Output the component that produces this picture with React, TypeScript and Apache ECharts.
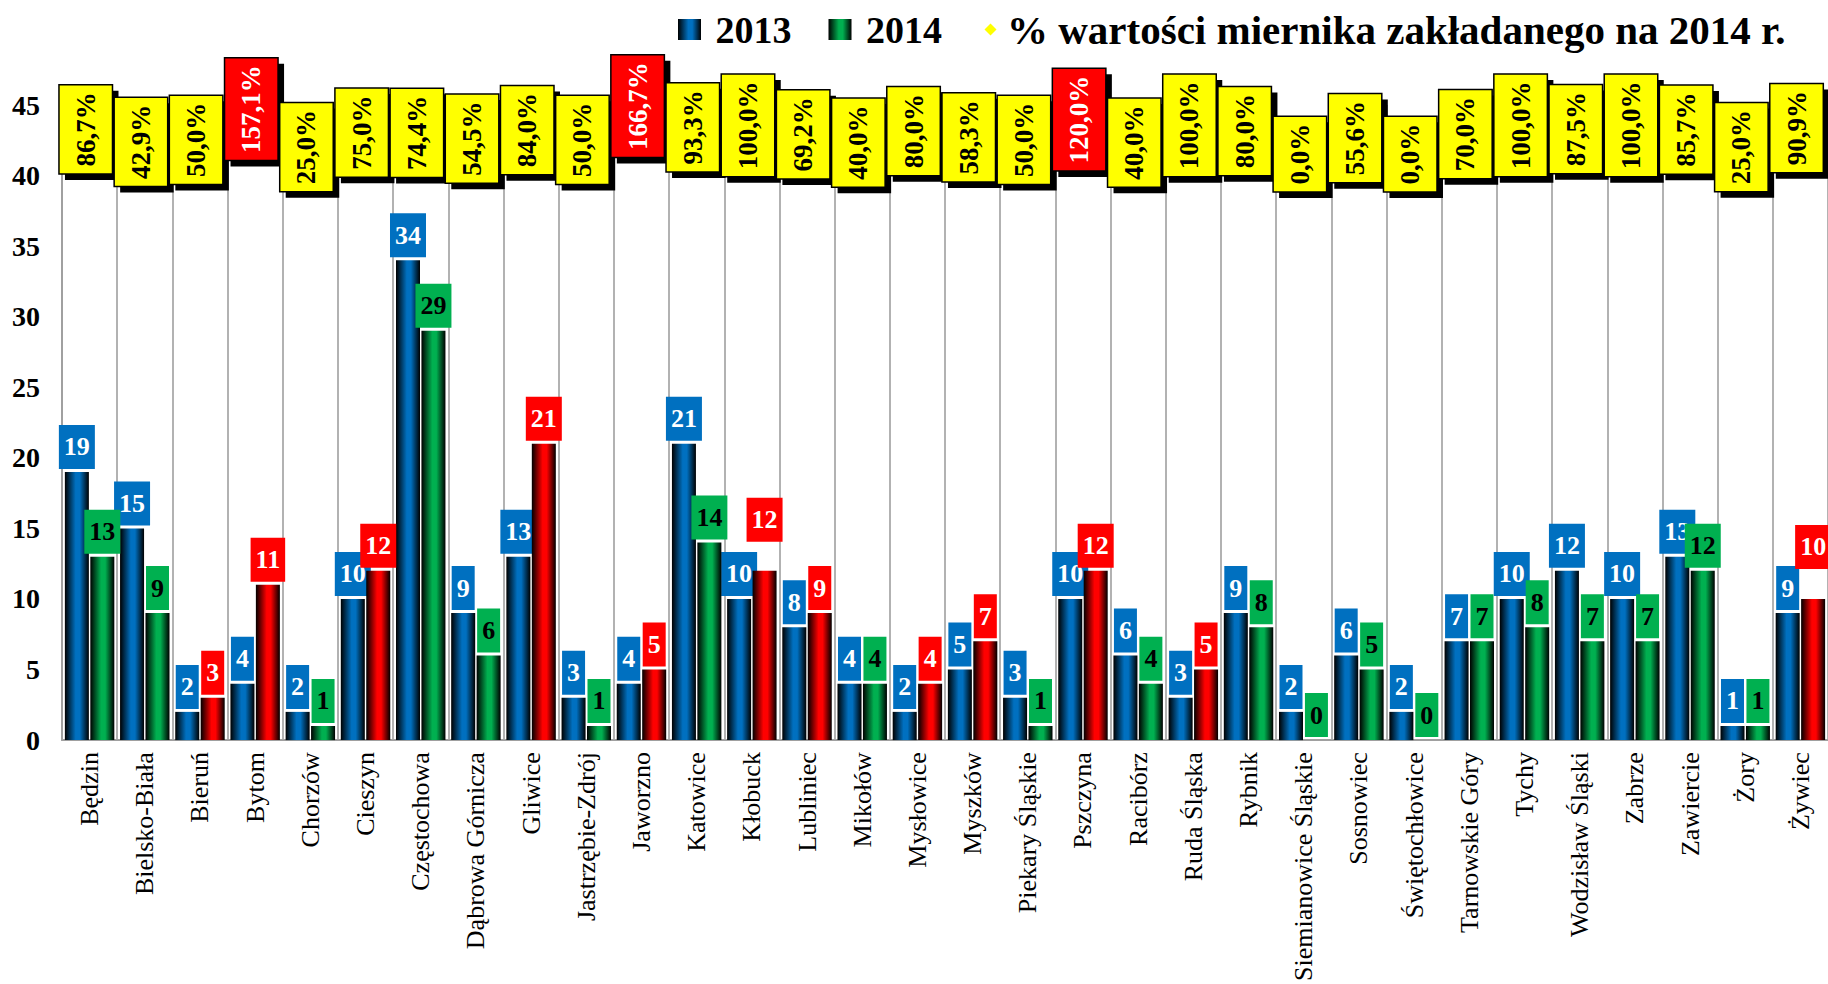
import React, { useEffect, useRef } from "react";
import * as echarts from "echarts";

const CATEGORIES = [
  "Będzin", "Bielsko-Biała", "Bieruń", "Bytom", "Chorzów", "Cieszyn", "Częstochowa",
  "Dąbrowa Górnicza", "Gliwice", "Jastrzębie-Zdrój", "Jaworzno", "Katowice", "Kłobuck",
  "Lubliniec", "Mikołów", "Mysłowice", "Myszków", "Piekary Śląskie", "Pszczyna", "Racibórz",
  "Ruda Śląska", "Rybnik", "Siemianowice Śląskie", "Sosnowiec", "Świętochłowice",
  "Tarnowskie Góry", "Tychy", "Wodzisław Śląski", "Zabrze", "Zawiercie", "Żory", "Żywiec",
];

const VALUES_2013 = [19, 15, 2, 4, 2, 10, 34, 9, 13, 3, 4, 21, 10, 8, 4, 2, 5, 3, 10, 6, 3, 9, 2, 6, 2, 7, 10, 12, 10, 13, 1, 9];
const VALUES_2014 = [13, 9, 3, 11, 1, 12, 29, 6, 21, 1, 5, 14, 12, 9, 4, 4, 7, 1, 12, 4, 5, 8, 0, 5, 0, 7, 8, 7, 7, 12, 1, 10];
const PERCENT_2014 = [
  86.7, 42.9, 50.0, 157.1, 25.0, 75.0, 74.4, 54.5, 84.0, 50.0, 166.7, 93.3, 100.0, 69.2, 40.0, 80.0,
  58.3, 50.0, 120.0, 40.0, 100.0, 80.0, 0.0, 55.6, 0.0, 70.0, 100.0, 87.5, 100.0, 85.7, 25.0, 90.9,
];

const Y_TICKS = { min: 0, max: 45, interval: 5 };

const SERIES_2013 = "2013";
const SERIES_2014 = "2014";
const SERIES_PCT = "% wartości miernika zakładanego na 2014 r.";

// label layout tweaks (style, not data): raised 2014 labels
const LABEL_RAISE_2014: Record<number, number> = { 12: -26, 31: -27 };

const FONT = "'Liberation Serif', 'Times New Roman', serif";
const BLUE = "#0070c0";
const GREEN = "#00b050";
const RED = "#ff0000";
const YELLOW = "#ffff00";
const PCT_FONT_SIZE = 27;

function grad(c: string) {
  return new echarts.graphic.LinearGradient(0, 0, 1, 0, [
    { offset: 0, color: "#000000" },
    { offset: 0.45, color: c },
    { offset: 0.62, color: c },
    { offset: 1, color: "#000000" },
  ]);
}

function fmtPct(p: number) {
  return p.toFixed(1).replace(".", ",") + "%";
}

let measureCtx: CanvasRenderingContext2D | null = null;
function textWidth(t: string) {
  if (!measureCtx) measureCtx = document.createElement("canvas").getContext("2d");
  if (!measureCtx) return t.length * PCT_FONT_SIZE * 0.5;
  measureCtx.font = `bold ${PCT_FONT_SIZE}px ${FONT}`;
  return measureCtx.measureText(t).width;
}

const diamondSvg =
  "<svg xmlns='http://www.w3.org/2000/svg' width='23' height='21'><polygon points='11.5,4.5 17.5,10.5 11.5,16.5 5.5,10.5' fill='#ffff00'/></svg>";
const DIAMOND_ICON = "image://data:image/svg+xml;charset=utf-8," + encodeURIComponent(diamondSvg);

export default function App() {
  const ref = useRef<HTMLDivElement>(null);

  useEffect(() => {
    if (!ref.current) return;
    const chart = echarts.init(ref.current, null, { renderer: "svg" });

    const data2014 = VALUES_2014.map((v, i) => {
      const up = v > VALUES_2013[i];
      const raise = LABEL_RAISE_2014[i] || 0;
      return {
        value: v,
        itemStyle: { color: grad(up ? RED : GREEN) },
        label: {
          backgroundColor: up ? RED : GREEN,
          color: up ? "#ffffff" : "#000000",
          offset: [0, raise],
        },
      };
    });

    const barLabel = {
      show: true,
      position: "top",
      distance: 3,
      fontFamily: FONT,
      fontWeight: "bold",
      fontSize: 26,
      lineHeight: 26,
      padding: [9, 5, 9, 5],
    };

    const option: any = {
      animation: false,
      backgroundColor: "#ffffff",
      legend: {
        top: 4,
        left: 673,
        itemWidth: 23,
        itemHeight: 21,
        itemGap: 37,
        selectedMode: false,
        formatter: (n: string) => (n === SERIES_PCT ? n : " " + n),
        textStyle: { fontFamily: FONT, fontWeight: "bold", fontSize: 38, color: "#000" },
        data: [
          { name: SERIES_2013, icon: "rect" },
          { name: SERIES_2014, icon: "rect" },
          {
            name: SERIES_PCT,
            icon: DIAMOND_ICON,
            textStyle: { fontFamily: FONT, fontWeight: "bold", fontSize: 41, color: "#000" },
          },
        ],
      },
      grid: { left: 62, right: 0, top: 105, bottom: 238, containLabel: false },
      xAxis: {
        type: "category",
        data: CATEGORIES,
        boundaryGap: true,
        axisLine: { show: true, lineStyle: { color: "#a0a0a0", width: 2 } },
        axisTick: { show: false },
        splitLine: { show: true, lineStyle: { color: "#999999", width: 1.5 } },
        axisLabel: {
          rotate: 90,
          interval: 0,
          margin: 12,
          fontFamily: FONT,
          fontSize: 26,
          color: "#000",
        },
      },
      yAxis: [
        {
          type: "value",
          min: Y_TICKS.min,
          max: Y_TICKS.max,
          interval: Y_TICKS.interval,
          axisLine: { show: true, lineStyle: { color: "#a0a0a0", width: 2 } },
          axisTick: { show: false },
          splitLine: { show: false },
          axisLabel: { margin: 22, fontFamily: FONT, fontWeight: "bold", fontSize: 28, color: "#000" },
        },
        {
          type: "value",
          min: -2035,
          max: 171,
          show: false,
          splitLine: { show: false },
        },
      ],
      series: [
        {
          name: SERIES_2013,
          type: "bar",
          barWidth: 24,
          barGap: "6%",
          itemStyle: { color: grad(BLUE) },
          label: { ...barLabel, color: "#ffffff", backgroundColor: BLUE },
          data: VALUES_2013,
          z: 2,
        },
        {
          name: SERIES_2014,
          type: "bar",
          barWidth: 24,
          barGap: "6%",
          itemStyle: { color: grad(GREEN) },
          label: { ...barLabel },
          data: data2014,
          z: 3,
        },
        {
          name: SERIES_PCT,
          type: "custom",
          xAxisIndex: 0,
          yAxisIndex: 1,
          itemStyle: { color: YELLOW },
          encode: { x: 0, y: 1 },
          z: 10,
          clip: false,
          data: PERCENT_2014.map((p, i) => [i, p]),
          renderItem: (params: any, api: any) => {
            const i = api.value(0);
            const p = api.value(1);
            const pt = api.coord([i, p]);
            const cw = api.size([1, 0])[0];
            const w = cw * 0.97;
            const label = fmtPct(p);
            const h = textWidth(label) + 15;
            const cx = pt[0] - cw * 0.07;
            const cy = pt[1];
            const over = p > 100;
            return {
              type: "group",
              children: [
                {
                  type: "rect",
                  shape: { x: cx - w / 2 + 6, y: cy - h / 2 + 6, width: w, height: h },
                  style: { fill: "#000000" },
                },
                {
                  type: "rect",
                  shape: { x: cx - w / 2, y: cy - h / 2, width: w, height: h },
                  style: { fill: over ? RED : YELLOW, stroke: "#000000", lineWidth: 1.5 },
                },
                {
                  type: "text",
                  x: cx,
                  y: cy,
                  rotation: Math.PI / 2,
                  style: {
                    text: label,
                    fill: over ? "#ffffff" : "#000000",
                    fontSize: PCT_FONT_SIZE,
                    fontWeight: "bold",
                    fontFamily: FONT,
                    align: "center",
                    verticalAlign: "middle",
                  },
                },
              ],
            };
          },
        },
      ],
    };

    chart.setOption(option);
    return () => chart.dispose();
  }, []);

  return (
    <div
      ref={ref}
      style={{ position: "fixed", left: 0, top: 0, width: 1828, height: 984, background: "#fff" }}
    />
  );
}
